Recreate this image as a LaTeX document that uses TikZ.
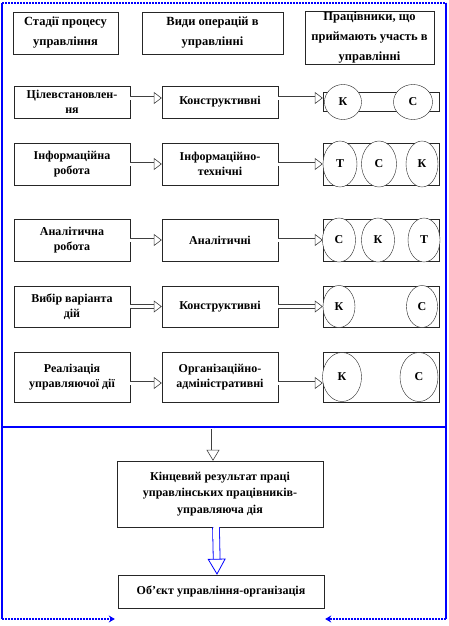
\documentclass[tikz,border=0pt]{standalone}
\usepackage{fontspec}
\setmainfont{Liberation Serif}
\usetikzlibrary{arrows.meta, shapes.geometric, positioning, calc}
\tikzset{
  hdbox/.style={rectangle,draw=black!85,fill=white,align=center,inner sep=1pt,font=\bfseries\fontsize{12.5}{20}\selectfont},
  stbox/.style={rectangle,draw=black!85,fill=white,minimum width=116pt,align=center,inner sep=1pt,font=\bfseries\fontsize{12}{15}\selectfont},
  wkbox/.style={rectangle,draw=black!85,minimum width=116pt},
  wkr/.style={ellipse,draw=black!85,fill=white,inner sep=0pt,font=\bfseries\fontsize{12}{13}\selectfont},
  harr/.style={draw=black!75,double=white,double distance=3pt,line width=0.6pt,-{Triangle[open,length=8pt,width=12pt]}},
  varr/.style={draw=black!75,double=white,double distance=3pt,line width=0.6pt,-{Triangle[open,length=11pt,width=13pt]}},
  barr/.style={draw=blue,double=white,double distance=6pt,line width=0.8pt,-{Triangle[open,length=16pt,width=18pt]}},
  bframe/.style={draw=blue,line width=2.5pt},
  barrow/.style={draw=blue,line width=2pt,densely dotted,-{Stealth[length=6pt,width=7pt]}}
}
\begin{document}
\begin{tikzpicture}[x=1pt,y=-1pt]
  \useasboundingbox (0,0) rectangle (448,626);

  % blue frame
  \coordinate (ftl) at (2,3);
  \coordinate (ftr) at (446,3);
  \coordinate (fml) at (2,427);
  \coordinate (fmr) at (446,427);
  \coordinate (fbl) at (2,619);
  \coordinate (fbr) at (446,619);
  \draw[bframe,line width=2pt,densely dotted] (ftl) -- (ftr);
  \draw[bframe] (ftl) -- (fbl);
  \draw[bframe] (ftr) -- (fbr);
  \draw[bframe] (fml) -- (fmr);

  % headers
  \node[hdbox,minimum width=105pt,minimum height=42pt] (h1) at (65.5,33) {Стадії процесу\\управління};
  \node[hdbox,minimum width=141pt,minimum height=42pt] (h2) at (212.5,33) {Види операцій в\\управлінні};
  \node[hdbox,minimum width=129pt,minimum height=52pt] (h3) at (369.5,38) {Працівники, що\\приймають участь в\\управлінні};

  % row 1
  \node[stbox,minimum height=32pt] (s1) at (72,102) {Цілевстановлен-\\ня};
  \node[stbox,minimum height=32pt] (o1) at (220,102) {Конструктивні};
  \node[wkbox,minimum height=19pt] (w1) at (381,102) {};
  \node[wkr,minimum width=37pt,minimum height=35pt] (w1a) at (343,102) {К};
  \node[wkr,minimum width=39pt,minimum height=35pt] (w1b) at (413,102) {С};
  \draw[harr] ([yshift=4pt]s1.east) -- ([yshift=4pt]o1.west);
  \draw[harr] ([yshift=4pt]o1.east) -- ([yshift=4pt]w1.west);

  % row 2
  \node[stbox,minimum height=42pt] (s2) at (72,164) {Інформаційна\\робота};
  \node[stbox,minimum height=42pt] (o2) at (220,164) {Інформаційно-\\технічні};
  \node[wkbox,minimum height=42pt] (w2) at (381,164) {};
  \node[wkr,minimum width=34pt,minimum height=46pt] (w2a) at (340,164) {Т};
  \node[wkr,minimum width=35pt,minimum height=46pt] (w2b) at (379,164) {С};
  \node[wkr,minimum width=32pt,minimum height=46pt] (w2c) at (422,164) {К};
  \draw[harr] (s2) -- (o2);
  \draw[harr] (o2) -- (w2);

  % row 3
  \node[stbox,minimum height=42pt] (s3) at (72,240) {Аналітична\\робота};
  \node[stbox,minimum height=42pt] (o3) at (220,240) {Аналітичні};
  \node[wkbox,minimum height=42pt] (w3) at (381,240) {};
  \node[wkr,minimum width=33pt,minimum height=44pt] (w3a) at (339,240) {С};
  \node[wkr,minimum width=33pt,minimum height=44pt] (w3b) at (378,240) {К};
  \node[wkr,minimum width=32pt,minimum height=44pt] (w3c) at (424,240) {Т};
  \draw[harr] (s3) -- (o3);
  \draw[harr] (o3) -- (w3);

  % row 4
  \node[stbox,minimum height=41pt] (s4) at (72,306.5) {Вибір варіанта\\дій};
  \node[stbox,minimum height=41pt] (o4) at (220,306.5) {Конструктивні};
  \node[wkbox,minimum height=41pt] (w4) at (381,306.5) {};
  \node[wkr,minimum width=32pt,minimum height=42pt] (w4a) at (339,306.5) {К};
  \node[wkr,minimum width=31pt,minimum height=42pt] (w4b) at (422,306.5) {С};
  \draw[harr] (s4) -- (o4);
  \draw[harr] (o4) -- (w4);

  % row 5
  \node[stbox,minimum height=50pt] (s5) at (72,377) {Реалізація\\управляючої дії};
  \node[stbox,minimum height=50pt] (o5) at (220,377) {Організаційно-\\адміністративні};
  \node[wkbox,minimum height=50pt] (w5) at (381,377) {};
  \node[wkr,minimum width=39pt,minimum height=49pt] (w5a) at (342,377) {К};
  \node[wkr,minimum width=38pt,minimum height=49pt] (w5b) at (419,377) {С};
  \draw[harr] ([yshift=-6pt]s5.east) -- ([yshift=-6pt]o5.west);
  \draw[harr] ([yshift=-6pt]o5.east) -- ([yshift=-6pt]w5.west);

  % result and object
  \node[stbox,minimum width=206pt,minimum height=66pt,font=\bfseries\fontsize{12}{16.5}\selectfont] (res) at (220,494) {Кінцевий результат праці\\управлінських працівників-\\управляюча дія};
  \node[stbox,minimum width=206pt,minimum height=33pt] (obj) at (221,591.5) {Об'єкт управління-організація};
  \coordinate (fout) at (213,428.5);
  \draw[varr] (fout) -- (fout |- res.north);
  \draw[barr] ([xshift=-4pt]res.south) -- ([xshift=-4pt]obj.north);
  \draw[barrow] (fbl) -- ([xshift=-3pt]obj.west |- fbl);
  \draw[barrow] (fbr) -- ([xshift=1pt]obj.east |- fbr);
\end{tikzpicture}
\end{document}
